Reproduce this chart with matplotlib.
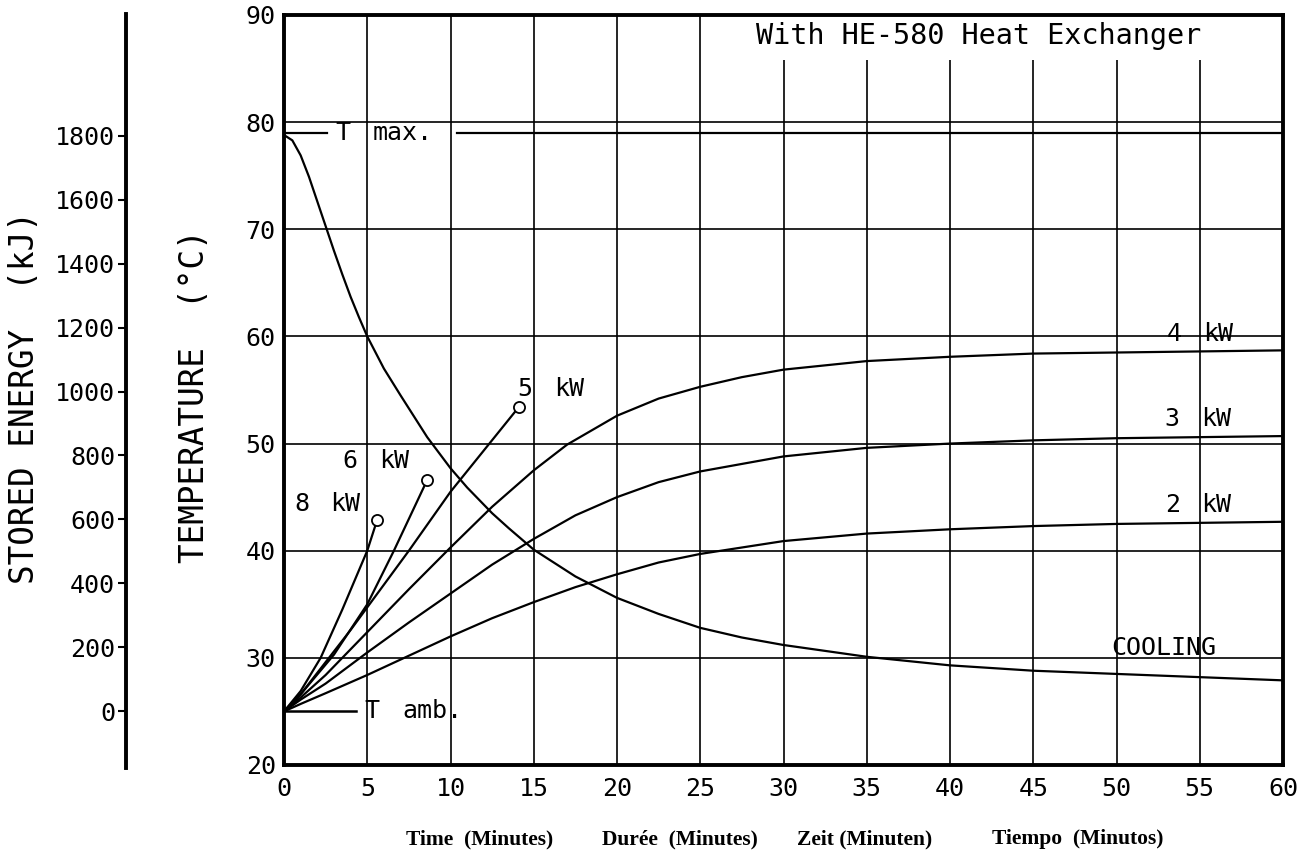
import numpy as np
import matplotlib.pyplot as plt
from matplotlib.patches import Rectangle

plt.rcParams['font.family'] = ['DejaVu Sans Mono', 'DejaVu Sans']

# heating curves, minutes / deg C
t_2kw = [0, 1, 2.5, 5, 7.5, 10, 12.5, 15, 17.5, 20, 22.5, 25, 30, 35, 40, 45, 50, 55, 60]
T_2kw = [25, 25.7, 26.7, 28.4, 30.2, 32.0, 33.7, 35.2, 36.6, 37.8, 38.9, 39.7, 40.9, 41.6, 42.0,
         42.3, 42.5, 42.6, 42.7]

t_3kw = [0, 1, 2.5, 5, 7.5, 10, 12.5, 15, 17.5, 20, 22.5, 25, 30, 35, 40, 45, 50, 55, 60]
T_3kw = [25, 26.1, 27.6, 30.5, 33.3, 36.0, 38.7, 41.1, 43.3, 45.0, 46.4, 47.4, 48.8, 49.6, 50.0,
         50.3, 50.5, 50.6, 50.7]

t_4kw = [0, 1, 2.5, 5, 7.5, 10, 12.5, 15, 17, 20, 22.5, 25, 27.5, 30, 35, 40, 45, 50, 55, 60]
T_4kw = [25, 26.3, 28.4, 32.4, 36.4, 40.3, 44.1, 47.5, 49.9, 52.6, 54.2, 55.3, 56.2, 56.9, 57.7,
         58.1, 58.4, 58.5, 58.6, 58.7]

t_5kw = [0, 1, 4, 7.5, 10, 14.1]
T_5kw = [25, 26.6, 32.6, 40.0, 45.5, 53.4]

t_6kw = [0, 1, 3, 5, 6.6, 8.6]
T_6kw = [25, 26.6, 30.3, 35.0, 40.0, 46.6]

t_8kw = [0, 1, 2.2, 3.5, 5, 5.6]
T_8kw = [25, 26.9, 30.0, 34.5, 40.0, 42.9]

# cooling from T max
t_cool = [0, 0.5, 1, 1.5, 2, 2.5, 3, 3.5, 4, 4.5, 5, 6, 7, 8.6, 10, 11, 12.5, 13.5, 15, 17.5, 20,
          22.5, 25, 27.5, 30, 35, 40, 45, 50, 55, 60]
T_cool = [78.8, 78.3, 76.9, 74.9, 72.6, 70.3, 68.0, 65.8, 63.7, 61.8, 60.0, 57.0, 54.5, 50.6, 47.7,
          45.9, 43.5, 42.1, 40.1, 37.6, 35.6, 34.1, 32.8, 31.9, 31.2, 30.1, 29.3, 28.8, 28.5,
          28.2, 27.9]

T_max = 79.0
T_amb = 25.0

x_ticks = list(range(0, 61, 5))
y_ticks = list(range(20, 91, 10))
energy_ticks = list(range(0, 1801, 200))

fig = plt.figure(figsize=(13.12, 8.5), dpi=100)
ax = fig.add_axes([284/1312, 85/850, 999/1312, 750/850])
ax.set_xlim(0, 60)
ax.set_ylim(20, 90)
ax.set_xticks(x_ticks)
ax.set_yticks(y_ticks)
ax.tick_params(length=0, labelsize=18)
ax.tick_params(axis='x', pad=9)
ax.tick_params(axis='y', pad=6)
ax.grid(True, color='black', lw=1.2)
ax.set_axisbelow(True)
for s in ax.spines.values():
    s.set_linewidth(2.8)

# white box behind the heading (gridlines stop under it)
ax.add_patch(Rectangle((26.2, 85.8), 33.8, 4.2, fc='white', ec='none', zorder=1.5))
ax.text(41.7, 88.0, 'With HE-580 Heat Exchanger', ha='center', va='center', fontsize=20.5, zorder=3)

lw = 1.6
ax.plot(t_2kw, T_2kw, color='k', lw=lw, zorder=2)
ax.plot(t_3kw, T_3kw, color='k', lw=lw, zorder=2)
ax.plot(t_4kw, T_4kw, color='k', lw=lw, zorder=2)
ax.plot(t_cool, T_cool, color='k', lw=lw, zorder=2)
for t, T in [(t_5kw, T_5kw), (t_6kw, T_6kw), (t_8kw, T_8kw)]:
    ax.plot(t, T, color='k', lw=lw, zorder=2)
    ax.plot(t[-1], T[-1], 'o', ms=8, mfc='white', mec='k', mew=1.3, zorder=3)

# T max / T amb reference lines
ax.plot([0, 2.6], [T_max, T_max], color='k', lw=lw)
ax.plot([10.4, 60], [T_max, T_max], color='k', lw=lw)
ax.plot([0, 4.3], [T_amb, T_amb], color='k', lw=1.8)

fs = 18
ax.text(3.1, T_max, 'T', ha='left', va='center', fontsize=fs)
ax.text(5.3, T_max, 'max.', ha='left', va='center', fontsize=fs)
ax.text(4.8, T_amb, 'T', ha='left', va='center', fontsize=fs)
ax.text(7.1, T_amb, 'amb.', ha='left', va='center', fontsize=fs)

kw_labels = [('4', 53.0, 60.2), ('3', 52.9, 52.3), ('2', 52.9, 44.3),
             ('5', 14.0, 55.1), ('6', 3.5, 48.4), ('8', 0.6, 44.4)]
for num, x, y in kw_labels:
    ax.text(x, y, num, ha='left', va='center', fontsize=fs)
    ax.text(x + 2.2, y, 'kW', ha='left', va='center', fontsize=fs)
ax.text(49.7, 30.9, 'COOLING', ha='left', va='center', fontsize=fs)

# stored energy scale: 0 kJ at T amb
axE = fig.add_axes([126/1312, 82/850, 0.0005, 754/850])
axE.set_ylim(-178.4, 2181.9)
axE.set_xticks([])
axE.set_yticks(energy_ticks)
axE.patch.set_visible(False)
for k in ['top', 'right', 'bottom']:
    axE.spines[k].set_visible(False)
axE.spines['left'].set_linewidth(2.8)
axE.tick_params(axis='y', length=6, width=1.5, labelsize=18, pad=2)

fig.text(25/1312, 1 - 398/850, 'STORED ENERGY  (kJ)', rotation=90, ha='center', va='center', fontsize=23.5)
fig.text(195/1312, 1 - 396/850, 'TEMPERATURE  (°C)', rotation=90, ha='center', va='center', fontsize=23.5)

for lab, xc in [('Time  (Minutes)', 480), ('Durée  (Minutes)', 680),
                ('Zeit (Minuten)', 865), ('Tiempo  (Minutos)', 1078)]:
    fig.text(xc/1312, 1 - 839/850, lab, ha='center', va='center', fontsize=15.5,
             family='Liberation Serif', weight='bold')

fig.savefig('out.png', dpi=100)
